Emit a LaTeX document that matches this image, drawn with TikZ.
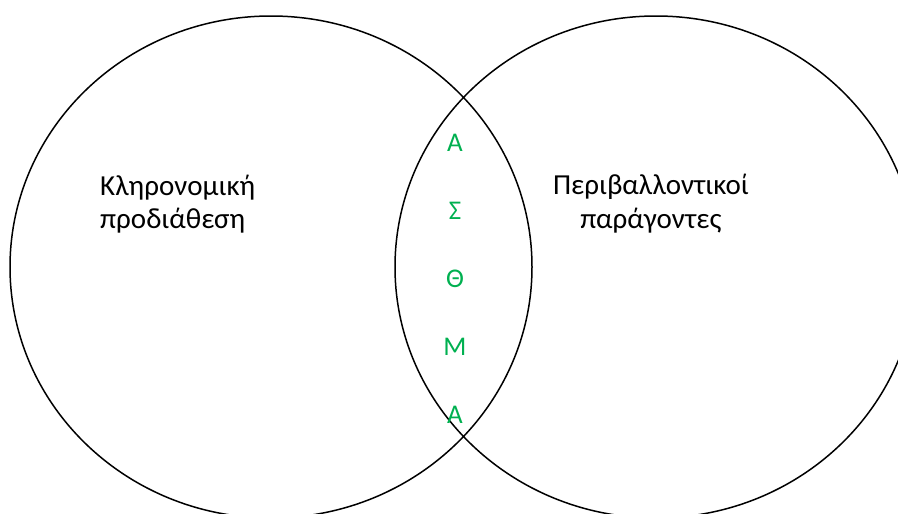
\documentclass[tikz,border=0pt]{standalone}
\usepackage{fontspec}
\setmainfont{Carlito}
\definecolor{officegreen}{HTML}{00B050}
\begin{document}
\begin{tikzpicture}[x=1pt,y=-1pt,
  ring/.style={draw=black,line width=1.5pt},
  label/.style={font=\fontsize{29}{32}\selectfont,inner sep=0pt},
  letter/.style={font=\fontsize{27}{32}\selectfont,inner sep=0pt,text=officegreen,anchor=base}]
\useasboundingbox (0,0) rectangle (898,514);
\draw[ring] (271,267) ellipse [x radius=261, y radius=251];
\draw[ring] (656,267) ellipse [x radius=261, y radius=251];
\node[label,anchor=base west] (l1) at (100,195) {Κληρονομική};
\node[label,anchor=base west] (l2) at (100,228) {προδιάθεση};
\node[label,anchor=base] (r1) at (651,194) {Περιβαλλοντικοί};
\node[label,anchor=base] (r2) at (651,228) {παράγοντες};
\node[letter] (a1) at (455,151) {Α};
\node[letter] (a2) at (455,219) {Σ};
\node[letter] (a3) at (455,287) {Θ};
\node[letter] (a4) at (455,355) {Μ};
\node[letter] (a5) at (455,423) {Α};
\end{tikzpicture}
\end{document}
